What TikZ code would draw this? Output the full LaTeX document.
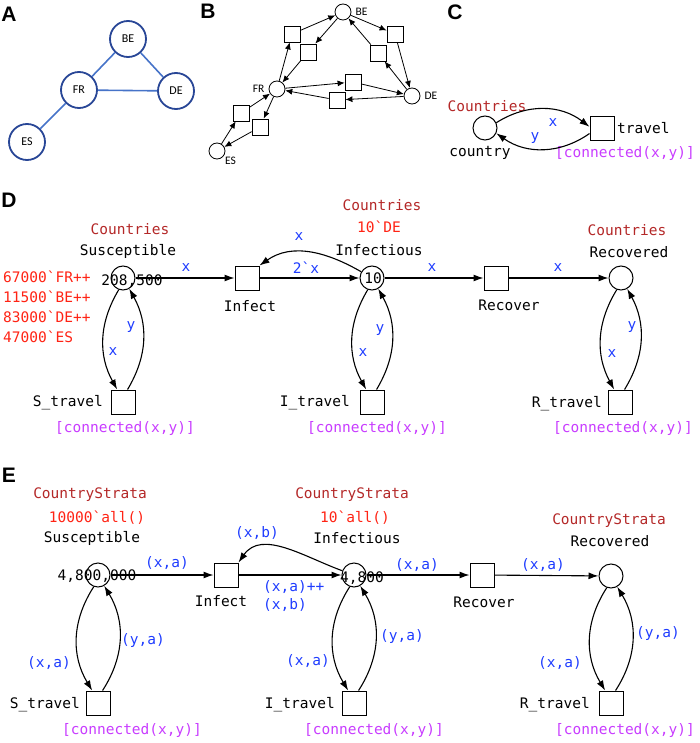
\documentclass[tikz,border=0pt]{standalone}
\usepackage{fontspec}
\setmainfont{Liberation Sans}
\setmonofont{DejaVu Sans Mono}
\newfontfamily\mapfont{Carlito}
\usepackage{tikz}
\usetikzlibrary{arrows.meta}
\usetikzlibrary{calc}
\usetikzlibrary{positioning}

\definecolor{typered}{RGB}{180,40,40}
\definecolor{markred}{RGB}{255,35,20}
\definecolor{arcblue}{RGB}{30,60,255}
\definecolor{guardpink}{RGB}{200,60,255}
\definecolor{mapnode}{RGB}{40,70,150}
\definecolor{mapedge}{RGB}{70,115,200}
\newcommand{\cpnfont}{\fontsize{14.5}{18}\selectfont\ttfamily}
\newcommand{\tick}{\textasciigrave}

\begin{document}
\begin{tikzpicture}[
  x=1pt, y=1pt,
  > = {Latex[length=10pt,width=7pt]},
  every node/.style={font=\cpnfont, inner sep=0pt},
  panel/.style={font=\fontsize{21}{21}\selectfont\bfseries},
  city/.style={draw=mapnode, circle, line width=1.8pt, minimum size=36pt, font=\mapfont\fontsize{12}{12}\selectfont},
  road/.style={draw=mapedge, line width=1.6pt},
  bplace/.style={draw, circle, line width=.8pt, minimum size=16pt},
  btrans/.style={draw, rectangle, line width=.8pt, minimum size=16pt},
  btext/.style={font=\mapfont\fontsize{11.5}{11.5}\selectfont},
  barc/.style={->, >={Latex[length=7pt,width=6pt]}, line width=.8pt},
  place/.style={draw, circle, line width=1pt, minimum size=24pt},
  trans/.style={draw, rectangle, line width=1pt, minimum size=24pt},
  arc/.style={->, line width=1.1pt},
  colset/.style={text=typered},
  marking/.style={text=markred},
  inscr/.style={text=arcblue},
  guard/.style={text=guardpink}
  ]
	\useasboundingbox (0,0) rectangle (699,-743);

	% A
	\node[panel] (lA) at (9,-14) {A};
	\node[city] (aBE) at (128,-39) {BE};
	\node[city] (aFR) at (79,-90) {FR};
	\node[city] (aDE) at (176,-91) {DE};
	\node[city] (aES) at (27,-142) {ES};
	\draw[road] (aFR) -- (aBE);
	\draw[road] (aBE) -- (aDE);
	\draw[road] (aFR) -- (aDE);
	\draw[road] (aFR) -- (aES);

	% B
	\node[panel] (lB) at (208,-11) {B};
	\node[bplace] (bBE) at (343,-12) {};
	\node[bplace] (bFR) at (277,-89) {};
	\node[bplace] (bDE) at (412,-96) {};
	\node[bplace] (bES) at (217,-151) {};
	\node[btext, right=4pt of bBE] (bBEl) {BE};
	\node[btext, left=4pt of bFR] (bFRl) {FR};
	\node[btext, right=4pt of bDE] (bDEl) {DE};
	\node[btext, below right=0pt and 2pt of bES] (bESl) {ES};

	\node[btrans] (b1) at (292,-34) {};
	\node[btrans] (b2) at (308,-52) {};
	\node[btrans] (b3) at (395,-34) {};
	\node[btrans] (b4) at (378,-53) {};
	\node[btrans] (b5) at (353,-82) {};
	\node[btrans] (b6) at (337,-100) {};
	\node[btrans] (b7) at (241,-113) {};
	\node[btrans] (b8) at (260,-127) {};

	\draw[barc] (bFR) -- (b1);
	\draw[barc] (b1) -- (bBE);
	\draw[barc] (bBE) -- (b2);
	\draw[barc] (b2) -- (bFR);
	\draw[barc] (bBE) -- (b3);
	\draw[barc] (b3) -- (bDE);
	\draw[barc] (bDE) -- (b4);
	\draw[barc] (b4) -- (bBE);
	\draw[barc] (bFR) -- (b5);
	\draw[barc] (b5) -- (bDE);
	\draw[barc] (bDE) -- (b6);
	\draw[barc] (b6) -- (bFR);
	\draw[barc] (bES) -- (b7);
	\draw[barc] (b7) -- (bFR);
	\draw[barc] (bFR) -- (b8);
	\draw[barc] (b8) -- (bES);

	% C
	\node[panel] (lC) at (455,-12) {C};
	\node[place] (cCountry) at (485,-128) {};
	\node[trans] (cTravel) at (602,-129) {};
	\node[colset] (cType) at (487,-106) {Countries};
	\node (cName) at (480,-153) {country};
	\node[anchor=west] (cTName) at (617,-128) {travel};
	\node[guard] (cGuard) at (625,-154) {[connected(x,y)]};
	\draw[arc] (cCountry.25) to[bend left=35] (cTravel.170);
	\draw[arc] (cTravel.200) to[bend left=35] (cCountry.-25);
	\node[inscr] (cx) at (553,-123) {x};
	\node[inscr] (cy) at (535,-138) {y};

	% D
	\node[panel] (lD) at (9,-200) {D};
	\node[place] (dS) at (123,-278) {};
	\node[place] (dI) at (372,-278) {};
	\node[place] (dR) at (621,-278) {};
	\node[trans] (dInf) at (247,-278) {};
	\node[trans] (dRec) at (496,-278) {};
	\node[trans] (dSt) at (123,-402) {};
	\node[trans] (dIt) at (372,-402) {};
	\node[trans] (dRt) at (620,-402) {};

	\node[colset] (dSType) at (130,-229) {Countries};
	\node (dSName) at (128,-251) {Susceptible};
	\node (dSCount) at (132,-281) {208,500};
	\node[marking, anchor=north west, align=left, font=\fontsize{14.5}{20}\selectfont\ttfamily]
		(dSInit) at (3,-271) {67000\tick FR++\\11500\tick BE++\\83000\tick DE++\\47000\tick ES};
	\node[colset] (dIType) at (382,-205) {Countries};
	\node[marking] (dIInit) at (379,-227) {10\tick DE};
	\node (dIName) at (379,-250) {Infectious};
	\node (dICount) at (373,-278) {10};
	\node[colset] (dRType) at (627,-230) {Countries};
	\node (dRName) at (629,-252) {Recovered};
	\node (dInfName) at (250,-306) {Infect};
	\node (dRecName) at (509,-305) {Recover};
	\node[anchor=east] (dStName) at (103,-403) {S\_travel};
	\node[anchor=east] (dItName) at (350,-403) {I\_travel};
	\node[anchor=east] (dRtName) at (602,-404) {R\_travel};
	\node[guard] (dSGuard) at (125,-428) {[connected(x,y)]};
	\node[guard] (dIGuard) at (377,-428) {[connected(x,y)]};
	\node[guard] (dRGuard) at (623,-428) {[connected(x,y)]};

	\draw[arc] (dS) -- (dInf);
	\draw[arc] (dInf) -- (dI);
	\draw[arc] (dI.150) to[out=150,in=35] (dInf.north east);
	\draw[arc] (dI) -- (dRec);
	\draw[arc] (dRec) -- (dR);
	\draw[arc] (dS.250) to[bend right=30] (dSt.115);
	\draw[arc] (dSt.70) to[bend right=30] (dS.300);
	\draw[arc] (dI.250) to[bend right=30] (dIt.115);
	\draw[arc] (dIt.70) to[bend right=30] (dI.300);
	\draw[arc] (dR.250) to[bend right=30] (dRt.115);
	\draw[arc] (dRt.70) to[bend right=30] (dR.300);

	\node[inscr] (dx1) at (186,-268) {x};
	\node[inscr] (dx2) at (306,-268) {2\tick x};
	\node[inscr] (dx3) at (299,-237) {x};
	\node[inscr] (dx4) at (432,-268) {x};
	\node[inscr] (dx5) at (558,-268) {x};
	\node[inscr] (dx6) at (113,-352) {x};
	\node[inscr] (dy6) at (131,-327) {y};
	\node[inscr] (dx7) at (363,-353) {x};
	\node[inscr] (dy7) at (380,-330) {y};
	\node[inscr] (dx8) at (612,-354) {x};
	\node[inscr] (dy8) at (632,-327) {y};

	% E
	\node[panel] (lE) at (9,-475) {E};
	\node[place] (eS) at (98,-575) {};
	\node[place] (eI) at (354,-575) {};
	\node[place] (eR) at (611,-576) {};
	\node[trans] (eInf) at (226,-575) {};
	\node[trans] (eRec) at (482,-575) {};
	\node[trans] (eSt) at (98,-703) {};
	\node[trans] (eIt) at (354,-703) {};
	\node[trans] (eRt) at (611,-703) {};

	\node[colset] (eSType) at (90,-495) {CountryStrata};
	\node[marking] (eSInit) at (97,-518) {10000\tick all()};
	\node (eSName) at (92,-538) {Susceptible};
	\node (eSCount) at (97,-576) {4,800,000};
	\node[colset] (eIType) at (352,-495) {CountryStrata};
	\node[marking] (eIInit) at (355,-518) {10\tick all()};
	\node (eIName) at (357,-538) {Infectious};
	\node (eICount) at (362,-578) {4,800};
	\node[colset] (eRType) at (609,-521) {CountryStrata};
	\node (eRName) at (610,-541) {Recovered};
	\node (eInfName) at (221,-601) {Infect};
	\node (eRecName) at (484,-602) {Recover};
	\node[anchor=east] (eStName) at (80,-705) {S\_travel};
	\node[anchor=east] (eItName) at (335,-705) {I\_travel};
	\node[anchor=east] (eRtName) at (590,-705) {R\_travel};
	\node[guard] (eSGuard) at (132,-730) {[connected(x,y)]};
	\node[guard] (eIGuard) at (374,-730) {[connected(x,y)]};
	\node[guard] (eRGuard) at (625,-730) {[connected(x,y)]};

	\draw[arc] (eS) -- (eInf);
	\draw[arc] (eInf) -- (eI);
	\draw[arc] (eI.160) to[out=160,in=55] (eInf.north east);
	\draw[arc] (eI) -- (eRec);
	\draw[arc] (eRec) -- (eR);
	\draw[arc] (eS.250) to[bend right=32] (eSt.115);
	\draw[arc] (eSt.70) to[bend right=32] (eS.300);
	\draw[arc] (eI.250) to[bend right=32] (eIt.115);
	\draw[arc] (eIt.70) to[bend right=32] (eI.300);
	\draw[arc] (eR.250) to[bend right=32] (eRt.115);
	\draw[arc] (eRt.70) to[bend right=32] (eR.300);

	\node[inscr] (e1) at (167,-563) {(x,a)};
	\node[inscr, anchor=west, align=left] (e2) at (263,-596) {(x,a)++\\(x,b)};
	\node[inscr] (e3) at (257,-533) {(x,b)};
	\node[inscr] (e4) at (417,-565) {(x,a)};
	\node[inscr] (e5) at (543,-565) {(x,a)};
	\node[inscr] (e6) at (49,-663) {(x,a)};
	\node[inscr] (e7) at (143,-640) {(y,a)};
	\node[inscr] (e8) at (308,-661) {(x,a)};
	\node[inscr] (e9) at (402,-636) {(y,a)};
	\node[inscr] (e10) at (560,-663) {(x,a)};
	\node[inscr] (e11) at (658,-633) {(y,a)};

\end{tikzpicture}
\end{document}
